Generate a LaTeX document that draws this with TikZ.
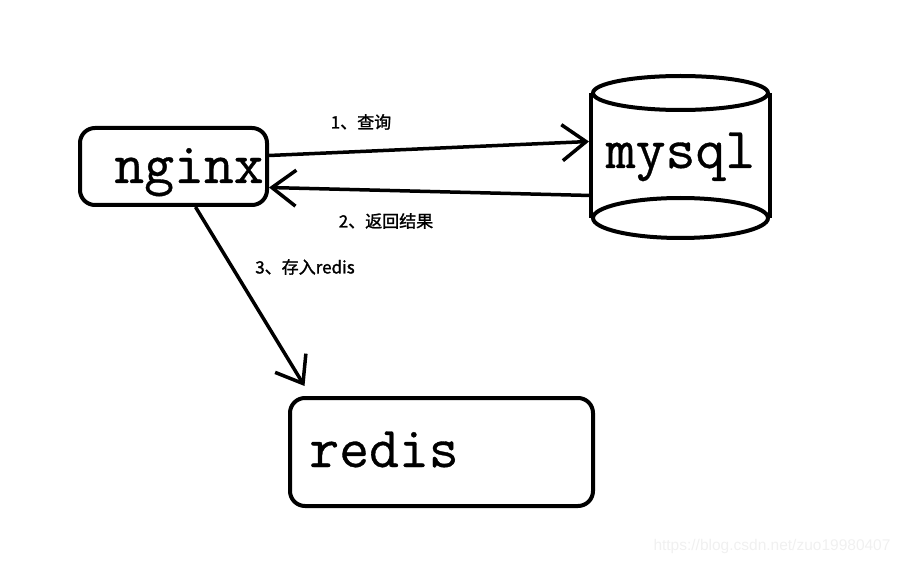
\documentclass[tikz,border=0pt]{standalone}
\usepackage{fontspec}
\newfontfamily\cjk{Noto Sans CJK SC}[RawFeature={embolden=1.5}]
\newfontfamily\boxfont{Latin Modern Mono}[RawFeature={embolden=0.6}]
\newfontfamily\wmfont{Liberation Sans}
\usetikzlibrary{arrows.meta}

\begin{document}
\begin{tikzpicture}[x=1pt, y=-1pt, line width=4pt,
    box/.style={draw, rounded corners=15pt, inner sep=0pt, font=\boxfont\fontsize{58}{58}\selectfont},
    arr/.style={-{Straight Barb[length=24pt, width=36pt, line width=3.5pt]}, line width=3.5pt},
    lbl/.style={font=\cjk\fontsize{17}{17}\selectfont}]
    \useasboundingbox (0,0) rectangle (903,564);

    % Nginx box
    \node[box, minimum width=187pt, minimum height=77pt, text height=41pt, text depth=8pt] (nginx) at (173.5,166.5) {\hspace*{31pt}nginx};

    % Mysql cylinder
    \node[inner sep=0pt, minimum width=175pt, minimum height=121pt, text height=38pt, text depth=13pt,
        font=\boxfont\fontsize{58}{58}\selectfont] (mysql) at (680.5,155.5) {mysql};
    \draw (mysql.north west) -- (mysql.south west);
    \draw (mysql.north east) -- (mysql.south east);
    \draw (mysql.north) ellipse [x radius=87.5, y radius=17];
    \draw (mysql.south) ellipse [x radius=87.5, y radius=20];

    % Redis box
    \node[box, minimum width=303pt, minimum height=108pt, text height=40pt, text depth=10pt] (redis) at (441.5,452) {redis\hspace*{115pt}};

    % Arrows and labels
    \draw[arr] ([yshift=11pt]nginx.east) -- ([yshift=14pt, xshift=-2pt]mysql.west);
    \node[lbl] (query) at (361,122) {1、查询};
    \draw[arr] ([yshift=-40pt]mysql.west) -- ([yshift=-21pt]nginx.east);
    \node[lbl] (result) at (386,221) {2、返回结果};
    \draw[arr] ([xshift=22pt]nginx.south) -- ([xshift=-137pt, yshift=10pt]redis.north);
    \node[lbl] (store) at (305,267) {3、存入redis};

    % Watermark
    \node[font=\wmfont\fontsize{15.5}{15.5}\selectfont, text=black!6] (mark) at (772,546) {https://blog.csdn.net/zuo19980407};
\end{tikzpicture}
\end{document}
